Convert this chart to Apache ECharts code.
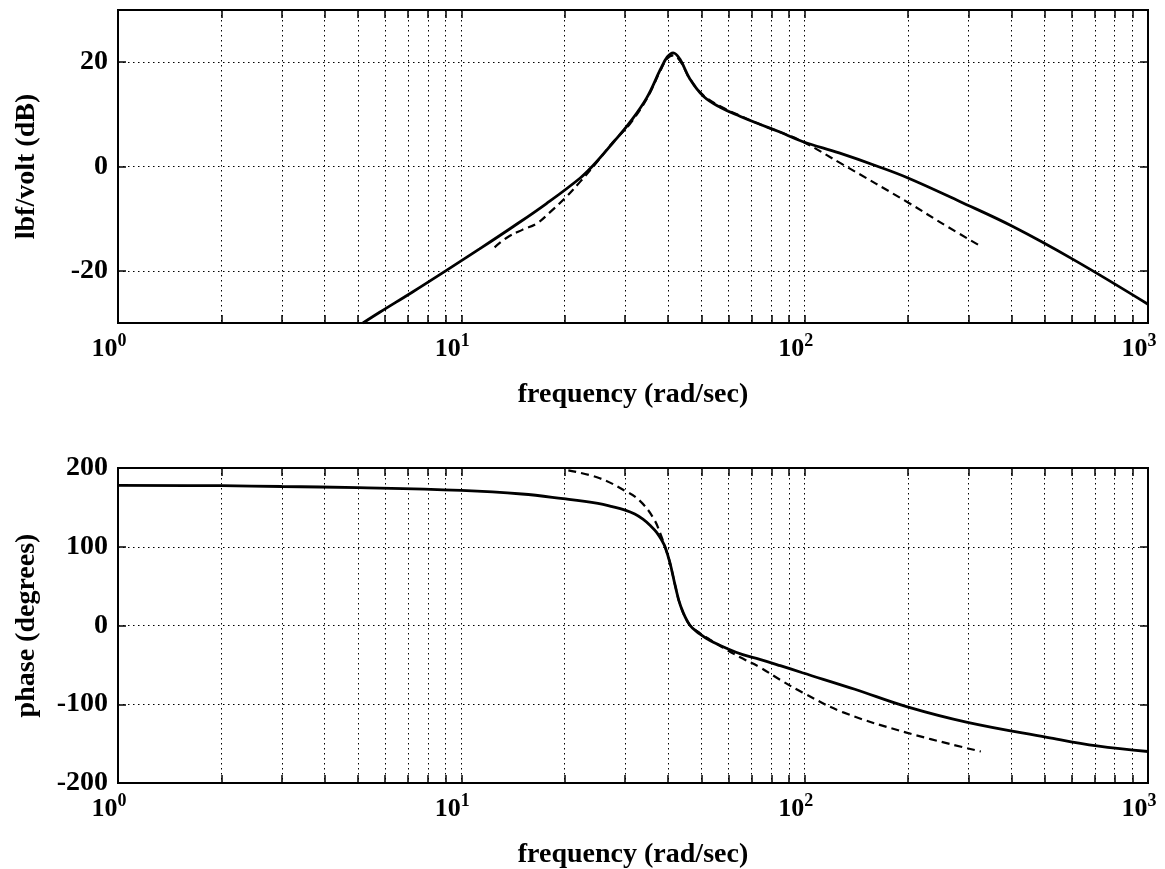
<!DOCTYPE html>
<html>
<head>
<meta charset="utf-8">
<script src="https://cdn.jsdelivr.net/npm/echarts@6/dist/echarts.min.js"></script>
<style>
    html, body { margin: 0; padding: 0; background: #fff; }
    #main { width: 1165px; height: 869px; }
</style>
</head>
<body>
<div id="main"></div>
<script>
// magnitude, solid curve
var magFreq = [5.17, 5.8, 7.23, 9.05, 11.3, 14.1, 17.7, 22.2, 24.2, 27.6, 31, 34.7, 38, 39.8, 41.4, 43.3, 46.4, 50.8, 56.9, 65, 74, 84, 98.5, 126, 162, 200, 283, 404, 605, 1000];
var magDb = [-30, -27.9, -24.0, -19.9, -15.8, -11.6, -7.1, -2.2, 0.2, 4.5, 8.5, 13.2, 18.6, 21.0, 21.8, 20.6, 16.7, 13.4, 11.3, 9.6, 8.1, 6.7, 4.8, 2.6, 0.1, -2.2, -6.7, -11.5, -17.8, -26.4];

// magnitude, dashed curve
var magFitFreq = [12.5, 13.6, 15.1, 16.6, 18.1, 20.3, 22.2, 24.8, 27.6, 31, 34.7, 38, 39.8, 41.4, 43.3, 46.4, 50.8, 56.9, 65, 74, 84, 98.5, 129, 200, 260, 326];
var magFitDb = [-15.5, -13.6, -12.1, -10.9, -8.8, -5.7, -2.9, 0.8, 4.6, 8.2, 13, 18.4, 20.7, 21.3, 20.3, 16.7, 13.6, 11.5, 9.7, 8.1, 6.7, 4.8, 0.4, -6.9, -11.5, -15.3];

// phase, solid curve
var phaseFreq = [1, 2, 3, 5, 10, 15, 19.8, 25, 27.5, 30, 32, 33.8, 35.5, 37.1, 38.6, 39.2, 40.5, 42, 43.5, 46.2, 49.6, 53, 59.3, 66, 74, 84.9, 98.5, 140, 198, 298, 508, 710, 1000];
var phaseDeg = [178, 177.5, 176.5, 175, 171.5, 167, 161, 155, 151, 146.5, 141.5, 135, 127, 118, 106, 100, 80, 50, 25, 1, -11, -19, -29, -37, -43, -51, -60, -81, -103, -123, -142, -153, -160];

// phase, dashed curve
var phaseFitFreq = [20.5, 25.3, 30, 33, 36.3, 38.5, 39.2, 40.5, 42, 43.5, 46.2, 49.6, 53, 59.3, 66, 74, 84.9, 98.5, 129, 198, 326];
var phaseFitDeg = [197, 187, 171, 159, 136, 110, 100, 80, 50, 25, 1, -10, -18, -31, -42, -53, -69, -85, -110, -136, -160];

var freqLabels = [1, 10, 100, 1000];
var magTicks = [-20, 0, 20];
var phaseTicks = [-200, -100, 0, 100, 200];

// grid/tick positions 1..9 per decade
var freqTicks = [];
for (var d = 1; d < 1000; d *= 10) {
    for (var k = 1; k < 10; k++) freqTicks.push(k * d);
}
freqTicks.push(1000);

var FONT = '"Liberation Serif", "DejaVu Serif", serif';

function pairs(xs, ys) {
    var out = [];
    for (var i = 0; i < xs.length; i++) out.push([xs[i], ys[i]]);
    return out;
}

function freqAxis(gridIndex, top) {
    return {
        type: 'log',
        gridIndex: gridIndex,
        position: top ? 'top' : 'bottom',
        min: 1,
        max: 1000,
        logBase: 10,
        name: top ? '' : 'frequency (rad/sec)',
        nameLocation: 'middle',
        nameGap: 58,
        nameTextStyle: { fontFamily: FONT, fontSize: 28, fontWeight: 'bold', color: '#000' },
        axisLine: { show: true, onZero: false, lineStyle: { color: '#000', width: 2 } },
        axisTick: { show: true, inside: true, length: 8, customValues: freqTicks, lineStyle: { color: '#000', width: 1.5 } },
        axisLabel: {
            show: !top,
            customValues: freqLabels,
            margin: 9,
            padding: [0, 18, 0, 0],
            formatter: function (v) {
                return '{b|10}{s|' + Math.round(Math.log10(v)) + '}';
            },
            rich: {
                b: { fontFamily: FONT, fontSize: 26, fontWeight: 'bold', color: '#000', lineHeight: 30, verticalAlign: 'bottom' },
                s: { fontFamily: FONT, fontSize: 18, fontWeight: 'bold', color: '#000', lineHeight: 16, verticalAlign: 'top' }
            }
        },
        splitLine: { show: !top, lineStyle: { color: '#000', width: 1, type: [1.5, 3.5] } },
        minorTick: { show: false },
        minorSplitLine: { show: false }
    };
}

function valAxis(gridIndex, right, min, max, ticks, title) {
    return {
        type: 'value',
        gridIndex: gridIndex,
        position: right ? 'right' : 'left',
        min: min,
        max: max,
        name: right ? '' : title,
        nameLocation: 'middle',
        nameGap: 77,
        nameTextStyle: { fontFamily: FONT, fontSize: 28, fontWeight: 'bold', color: '#000' },
        axisLine: { show: true, onZero: false, lineStyle: { color: '#000', width: 2 } },
        axisTick: { show: true, inside: true, length: 8, customValues: ticks, lineStyle: { color: '#000', width: 1.5 } },
        axisLabel: {
            show: !right,
            customValues: ticks,
            margin: 10,
            fontFamily: FONT, fontSize: 28, fontWeight: 'bold', color: '#000'
        },
        splitLine: { show: !right, lineStyle: { color: '#000', width: 1, type: [1.5, 3.5] } }
    };
}

function curve(name, data, xi, yi, dashed) {
    return {
        name: name,
        type: 'line',
        xAxisIndex: xi,
        yAxisIndex: yi,
        data: data,
        showSymbol: false,
        smooth: 0.4,
        clip: true,
        lineStyle: { color: '#000', width: dashed ? 2.2 : 2.8, type: dashed ? [8, 5] : 'solid' },
        z: dashed ? 3 : 4
    };
}

var myChart = echarts.init(document.getElementById('main'), null, { renderer: 'canvas' });

var option = {
    animation: false,
    backgroundColor: '#fff',
    grid: [
        { left: 118, top: 10, width: 1030, height: 313, show: true, borderColor: '#000', borderWidth: 2, outerBoundsMode: 'none' },
        { left: 118, top: 468, width: 1030, height: 315, show: true, borderColor: '#000', borderWidth: 2, outerBoundsMode: 'none' }
    ],
    xAxis: [freqAxis(0, false), freqAxis(0, true), freqAxis(1, false), freqAxis(1, true)],
    yAxis: [
        valAxis(0, false, -30, 30, magTicks, 'lbf/volt (dB)'),
        valAxis(0, true, -30, 30, magTicks, ''),
        valAxis(1, false, -200, 200, phaseTicks, 'phase (degrees)'),
        valAxis(1, true, -200, 200, phaseTicks, '')
    ],
    series: [
        curve('mag', pairs(magFreq, magDb), 0, 0, false),
        curve('mag fit', pairs(magFitFreq, magFitDb), 0, 0, true),
        curve('phase', pairs(phaseFreq, phaseDeg), 2, 2, false),
        curve('phase fit', pairs(phaseFitFreq, phaseFitDeg), 2, 2, true)
    ]
};

myChart.setOption(option);
window.addEventListener('resize', myChart.resize);
</script>
</body>
</html>
